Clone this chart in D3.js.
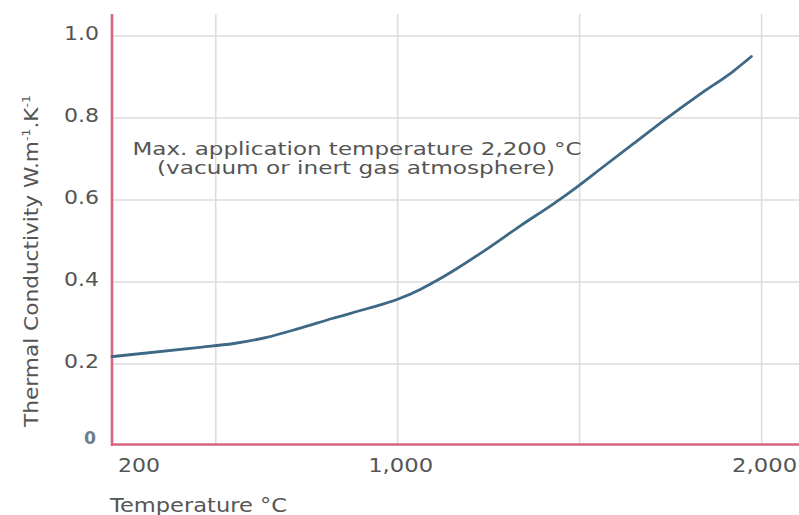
<!DOCTYPE html>
<html>
<head>
<meta charset="utf-8">
<script src="https://cdn.jsdelivr.net/npm/d3@7/dist/d3.min.js"></script>
<style>
  html, body { margin: 0; padding: 0; background: #ffffff; }
  svg { display: block; }
  text { font-family: "DejaVu Sans", Verdana, sans-serif; fill: #555555; }
</style>
</head>
<body>
<svg id="chart" width="799" height="515"></svg>
<script>
// ---- data ----
const temperatures = [215, 450, 550, 640, 730, 820, 920, 1000, 1062, 1100, 1152, 1246, 1337, 1427, 1496, 1556, 1647, 1740, 1832, 1922, 1972];
const conductivity = [0.218, 0.240, 0.250, 0.265, 0.287, 0.311, 0.336, 0.358, 0.382, 0.400, 0.427, 0.481, 0.537, 0.590, 0.634, 0.675, 0.737, 0.800, 0.859, 0.914, 0.950];
const xGridValues = [500, 1000, 1500, 2000];
const xTickValues = [1000, 2000];
const xTickLabels = ["1,000", "2,000"];
const xStartLabel = "200";
const yTickValues = [0.2, 0.4, 0.6, 0.8, 1.0];
const yTickLabels = ["0.2", "0.4", "0.6", "0.8", "1.0"];
const yZeroLabel = "0";
const xTitle = "Temperature °C";
const annotationLines = ["Max. application temperature 2,200 °C", "(vacuum or inert gas atmosphere)"];

const svg = d3.select("#chart");
const x = d3.scaleLinear().domain([215, 2100]).range([112, 798]);
const y = d3.scaleLinear().domain([0, 1.0537]).range([446, 14]);

const gridColor = "#dddddd";
const axisColor = "#d5647c";

// grid
svg.append("g").selectAll("line").data(xGridValues).join("line")
  .attr("x1", d => x(d)).attr("x2", d => x(d))
  .attr("y1", y.range()[1]).attr("y2", 444)
  .attr("stroke", gridColor).attr("stroke-width", 1.6);
svg.append("g").selectAll("line").data(yTickValues).join("line")
  .attr("x1", 112).attr("x2", 799)
  .attr("y1", d => y(d)).attr("y2", d => y(d))
  .attr("stroke", gridColor).attr("stroke-width", 1.6);

// axes lines
svg.append("line").attr("x1", 112).attr("x2", 112).attr("y1", y.range()[1]).attr("y2", 446)
  .attr("stroke", axisColor).attr("stroke-width", 2.6);
svg.append("line").attr("x1", 111).attr("x2", 799).attr("y1", 444.5).attr("y2", 444.5)
  .attr("stroke", axisColor).attr("stroke-width", 2.6);

// line
const pts = temperatures.map((t, i) => [t, conductivity[i]]);
const line = d3.line().x(d => x(d[0])).y(d => y(d[1])).curve(d3.curveMonotoneX);
svg.append("path").datum(pts).attr("d", line)
  .attr("fill", "none").attr("stroke", "#3d6886").attr("stroke-width", 2.8)
  .attr("stroke-linecap", "round").attr("stroke-linejoin", "round");

// helper to stretch text to a width
function fit(sel, w) {
  sel.attr("textLength", w).attr("lengthAdjust", "spacingAndGlyphs");
  return sel;
}

// y tick labels
yTickValues.forEach((v, i) => {
  const t = svg.append("text").attr("x", 99).attr("y", y(v) + 4)
    .attr("text-anchor", "end").attr("font-size", 19).text(yTickLabels[i]);
  fit(t, 35);
});
fit(svg.append("text").attr("x", 96).attr("y", 444).attr("text-anchor", "end")
  .attr("font-size", 17).attr("font-weight", "bold").style("fill", "#6d7e8e").text(yZeroLabel), 12);

// x tick labels
fit(svg.append("text").attr("x", x(x.domain()[0]) + 6).attr("y", 472)
  .attr("text-anchor", "start").attr("font-size", 19).text(xStartLabel), 42);
xTickValues.forEach((v, i) => {
  fit(svg.append("text").attr("x", x(v) + 3).attr("y", 472)
    .attr("text-anchor", "middle").attr("font-size", 19).text(xTickLabels[i]), 65);
});

// axis titles
fit(svg.append("text").attr("x", 110).attr("y", 512).attr("font-size", 19).text(xTitle), 177);

const yt = svg.append("text")
  .attr("transform", "translate(38,261) rotate(-90) scale(1.14,1)")
  .attr("text-anchor", "middle").attr("font-size", 19);
yt.append("tspan").text("Thermal Conductivity W.m");
yt.append("tspan").attr("font-size", 11).attr("dy", -8).text("-1");
yt.append("tspan").attr("dy", 8).text(".K");
yt.append("tspan").attr("font-size", 11).attr("dy", -8).text("-1");

// annotation
fit(svg.append("text").attr("x", 357).attr("y", 155).attr("text-anchor", "middle")
  .attr("font-size", 17.5).text(annotationLines[0]), 449);
fit(svg.append("text").attr("x", 356).attr("y", 174).attr("text-anchor", "middle")
  .attr("font-size", 17.5).text(annotationLines[1]), 398);
</script>
</body>
</html>
